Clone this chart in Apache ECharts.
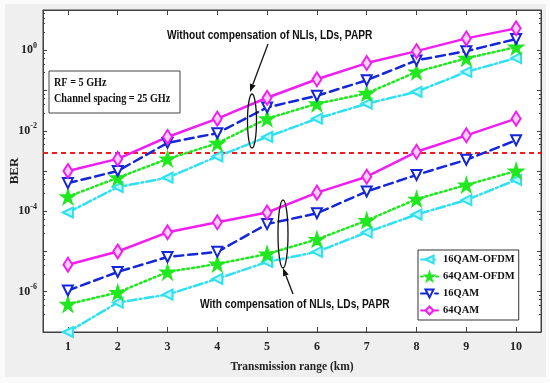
<!DOCTYPE html>
<html><head><meta charset="utf-8">
<script src="https://cdn.jsdelivr.net/npm/echarts@6/dist/echarts.min.js"></script>
<style>html,body{margin:0;padding:0;background:#fff}#c{width:550px;height:383px}</style>
</head><body><div id="c"></div>
<script>
const xValues = [1,2,3,4,5,6,7,8,9,10];
const seriesNames = ['16QAM-OFDM','64QAM-OFDM','16QAM','64QAM'];
// Without compensation of NLIs, LDs, PAPR
const q16ofdmWithout = [9.3e-5, 4e-4, 6.8e-4, 2.3e-3, 7e-3, 0.02, 0.047, 0.093, 0.29, 0.64];
const q64ofdmWithout = [2.3e-4, 6.8e-4, 2e-3, 4.9e-3, 0.02, 0.047, 0.085, 0.29, 0.63, 1.2];
const q16Without = [5e-4, 1e-3, 5e-3, 8.7e-3, 0.038, 0.074, 0.18, 0.56, 0.95, 1.9];
const q64Without = [1e-3, 2e-3, 7e-3, 0.02, 0.066, 0.19, 0.48, 0.95, 1.97, 3.5];
// With compensation of NLIs, LDs, PAPR
const q16ofdmWith = [1e-7, 5.4e-7, 8.5e-7, 2.1e-6, 5.5e-6, 9.8e-6, 3e-5, 8.3e-5, 1.9e-4, 6e-4];
const q64ofdmWith = [4.9e-7, 9.6e-7, 3.1e-6, 4.9e-6, 8.7e-6, 2e-5, 5.9e-5, 2e-4, 4.5e-4, 1e-3];
const q16With = [1.07e-6, 3.1e-6, 7.3e-6, 9.8e-6, 4.8e-5, 8.9e-5, 3.1e-4, 8e-4, 1.9e-3, 5.8e-3];
const q64With = [4.7e-6, 1e-5, 3e-5, 5.3e-5, 9.3e-5, 2.9e-4, 7.2e-4, 3e-3, 7.7e-3, 0.02];
const fecLimit = 2.8e-3;
const xRange = [0.5, 10.5];
const xTickLabels = ['1','2','3','4','5','6','7','8','9','10'];

const serif = "'Liberation Serif','Times New Roman',serif";
const sans = "'Liberation Sans',Arial,sans-serif";
const star = 'path://M50,0 L61,35 L98,35 L68,57 L79,91 L50,70 L21,91 L32,57 L2,35 L39,35 Z';

const styles = {
  '16QAM-OFDM': {color:'#2fe0ee', type:[9,3,2,3], symbol:'triangle', rotate:90, size:10, fill:'#bff6fb'},
  '64QAM-OFDM': {color:'#1fe81f', type:[2,3], symbol:star, rotate:0, size:13, fill:'#1fe81f'},
  '16QAM': {color:'#1426d8', type:[9,5], symbol:'triangle', rotate:180, size:10, fill:'#ffffff'},
  '64QAM': {color:'#f01ef0', type:'solid', symbol:'diamond', rotate:0, size:[9,14], fill:'#fbd0fb'}
};
function mk(name, arr) {
  const s = styles[name];
  return {
    name, type:'line', data: xValues.map((x,i)=>[x, arr[i]]),
    symbol: s.symbol, symbolRotate: s.rotate, symbolSize: s.size, clip:false,
    lineStyle: {color:s.color, width:2.5, type:s.type, cap:'round'},
    itemStyle: {color: s.fill, borderColor: s.color, borderWidth: 2},
    z: 3
  };
}
const series = [
  {name:'FEC limit', type:'line', data: xRange.map(x=>[x, fecLimit]), symbol:'none', silent:true,
   lineStyle:{color:'#ee1c1c', type:[5,4], width:2}, z:2},
  mk('16QAM-OFDM', q16ofdmWithout), mk('64QAM-OFDM', q64ofdmWithout), mk('16QAM', q16Without), mk('64QAM', q64Without),
  mk('16QAM-OFDM', q16ofdmWith), mk('64QAM-OFDM', q64ofdmWith), mk('16QAM', q16With), mk('64QAM', q64With)
];

function arrow(x1,y1,x2,y2){
  const a = Math.atan2(y2-y1, x2-x1), L=8, W=3;
  const bx = x2 - L*Math.cos(a), by = y2 - L*Math.sin(a);
  return [
    {type:'line', shape:{x1,y1,x2:bx,y2:by}, style:{stroke:'#111', lineWidth:1.3}, z:10},
    {type:'polygon', shape:{points:[[x2,y2],[bx+W*Math.sin(a), by-W*Math.cos(a)],[bx-W*Math.sin(a), by+W*Math.cos(a)]]}, style:{fill:'#111'}, z:10}
  ];
}

const chart = echarts.init(document.getElementById('c'));
const axisColor = '#404040';
chart.setOption({
  backgroundColor:'#fbfbfb',
  animation:false,
  grid:{left:43, right:9, top:10, bottom:51, containLabel:false, outerBoundsMode:'none', show:true, backgroundColor:'#ffffff', borderColor:axisColor, borderWidth:1},
  legend:{
    data: seriesNames, orient:'vertical', left:418, top:250,
    itemWidth:17, itemHeight:10, itemGap:6,
    backgroundColor:'#ffffff', borderColor:'#333', borderWidth:1, padding:[4,4,4,2],
    textStyle:{fontFamily:serif, fontWeight:'bold', fontSize:10.5, color:'#111'}
  },
  xAxis:[{
    type:'value', min:xRange[0], max:xRange[1],
    name:'Transmission range (km)', nameLocation:'middle', nameGap:29, nameMoveOverlap:false,
    nameTextStyle:{fontFamily:serif, fontWeight:'bold', fontSize:11.5, color:'#222'},
    axisLine:{lineStyle:{color:axisColor}},
    axisTick:{inside:true, length:5, lineStyle:{color:axisColor}, customValues:xValues},
    splitLine:{show:false},
    axisLabel:{fontFamily:serif, fontWeight:'bold', fontSize:12, color:'#222', margin:9, customValues:xValues,
      formatter:(v)=>{const i = xValues.indexOf(Math.round(v)); return i>=0 ? xTickLabels[i] : '';}}
  },{
    type:'value', position:'top', min:xRange[0], max:xRange[1],
    axisLine:{show:true, lineStyle:{color:axisColor}},
    axisTick:{inside:true, length:5, lineStyle:{color:axisColor}, customValues:xValues},
    axisLabel:{show:false}, splitLine:{show:false}
  }],
  yAxis:[{
    type:'log', logBase:10, min:1e-7, max:10, interval:1,
    name:'BER', nameLocation:'middle', nameGap:22, nameRotate:90, nameMoveOverlap:false,
    nameTextStyle:{fontFamily:serif, fontWeight:'bold', fontSize:13, color:'#222'},
    axisLine:{show:true, lineStyle:{color:axisColor}}, axisTick:{inside:true, length:4, lineStyle:{color:axisColor}},
    minorTick:{show:true, splitNumber:5, length:2, lineStyle:{color:axisColor}},
    splitLine:{show:false},
    axisLabel:{margin:6, formatter:(v)=>{const e=Math.round(Math.log10(v)); if(e%2!==0||e>0) return ''; return '{b|10}{s|'+e+'}';},
      rich:{b:{fontFamily:serif, fontWeight:'bold', fontSize:12, color:'#222'}, s:{fontFamily:serif, fontWeight:'bold', fontSize:8, color:'#222', padding:[0,0,9,0]}}}
  },{
    type:'log', logBase:10, min:1e-7, max:10, interval:1, position:'right',
    axisLine:{show:true, lineStyle:{color:axisColor}}, axisTick:{inside:true, length:4, lineStyle:{color:axisColor}},
    minorTick:{show:true, splitNumber:5, length:2, lineStyle:{color:axisColor}},
    splitLine:{show:false}, axisLabel:{show:false}
  }],
  series,
  graphic:[
    {type:'rect', shape:{x:5,y:4,width:541,height:373}, style:{fill:'#efefef'}, z:-100, silent:true},
    {type:'rect', shape:{x:49,y:71,width:131,height:42}, style:{fill:'#fff', stroke:'#444', lineWidth:1}, z:9},
    {type:'text', x:54, y:77, scaleX:0.85, style:{text:'RF = 5 GHz', font:"bold 12px "+serif, fill:'#111'}, z:10},
    {type:'text', x:54, y:93, scaleX:0.85, style:{text:'Channel spacing = 25 GHz', font:"bold 12px "+serif, fill:'#111'}, z:10},
    {type:'text', x:167, y:30, scaleX:0.85, style:{text:'Without compensation of NLIs, LDs, PAPR', font:"bold 12px "+sans, fill:'#111'}, z:10},
    {type:'text', x:200, y:299, scaleX:0.85, style:{text:'With compensation of NLIs, LDs, PAPR', font:"bold 12px "+sans, fill:'#111'}, z:10},
    {type:'ellipse', shape:{cx:252, cy:121, rx:4.5, ry:27}, style:{fill:'none', stroke:'#111', lineWidth:1.3}, z:10},
    {type:'ellipse', shape:{cx:283, cy:234, rx:5, ry:34}, style:{fill:'none', stroke:'#111', lineWidth:1.3}, z:10},
    ...arrow(268,44,250,92),
    ...arrow(293,294,283,268)
  ]
});
</script></body></html>
